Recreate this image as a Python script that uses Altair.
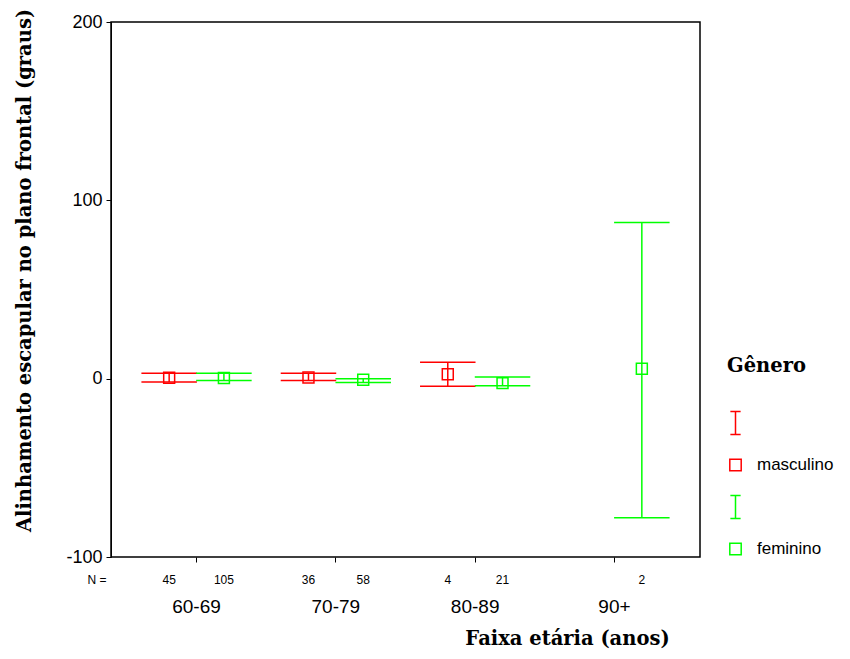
import altair as alt
import pandas as pd

# Data
faixa = ["60-69", "60-69", "70-79", "70-79", "80-89", "80-89", "90+"]
genero = ["masculino", "feminino", "masculino", "feminino", "masculino", "feminino", "feminino"]
media = [0.5, 0.4, 0.6, -0.6, 2.5, -2.5, 5.6]
ic_sup = [3.1, 3.1, 3.1, 0.0, 9.2, 1.0, 87.6]
ic_inf = [-1.9, -1.0, -1.0, -2.1, -4.2, -4.0, -78.0]
n_casos = [45, 105, 36, 58, 4, 21, 2]

categorias = ["60-69", "70-79", "80-89", "90+"]
generos = ["masculino", "feminino"]
legenda_chaves = ["m_barra", "masculino", "f_barra", "feminino"]
cores = ["#FF0000", "#FF0000", "#00FF00", "#00FF00"]

df = pd.DataFrame({
    "faixa": faixa,
    "genero": genero,
    "media": media,
    "sup": ic_sup,
    "inf": ic_inf,
    "n": [str(v) for v in n_casos],
})
df["barra"] = df["genero"].map({"masculino": "m_barra", "feminino": "f_barra"})

ibeam = "M-0.9,-2H0.9M0,-2V2M-0.9,2H0.9"
shape_scale = alt.Scale(domain=legenda_chaves, range=[ibeam, "square", ibeam, "square"])
color_scale = alt.Scale(domain=legenda_chaves, range=cores)

legenda = alt.Legend(
    title="Gênero",
    orient="none",
    legendX=616,
    legendY=335,
    titleFont="DejaVu Serif",
    titleFontSize=19.5,
    titleFontWeight="bold",
    titleColor="#000000",
    titlePadding=38,
    labelFont="Liberation Sans",
    labelFontSize=17,
    labelColor="#000000",
    labelExpr="indexof(datum.label, 'barra') >= 0 ? '' : datum.label",
    symbolSize=130,
    symbolStrokeWidth=1.5,
    symbolFillColor="transparent",
    symbolOpacity=1,
    rowPadding=18,
    labelOffset=13,
    values=legenda_chaves,
)

x_enc = alt.X(
    "faixa:N",
    scale=alt.Scale(domain=categorias, paddingInner=0.214, paddingOuter=0.221),
    axis=alt.Axis(
        title="Faixa etária (anos)",
        labelAngle=0,
        labelPadding=35,
        labelFont="Liberation Sans",
        labelFontSize=19,
        labelColor="#000000",
        tickSize=5,
        tickColor="#000000",
        domain=False,
        titleFont="DejaVu Serif",
        titleFontSize=19.5,
        titleFontWeight="bold",
        titleColor="#000000",
        titleX=456,
        titleY=72,
        titleBaseline="top",
        titleAnchor="middle",
    ),
)
xoff = alt.XOffset("genero:N", scale=alt.Scale(domain=generos, paddingInner=0, paddingOuter=0))

y_scale = alt.Scale(domain=[-100, 200], nice=False, zero=False)
y_axis = alt.Axis(
    title="Alinhamento escapular no plano frontal (graus)",
    values=[-100, 0, 100, 200],
    labelExpr="datum.value < 0 ? '-' + abs(datum.value) : datum.label",
    grid=False,
    tickSize=5,
    tickColor="#000000",
    domainColor="#000000",
    labelFont="Liberation Sans",
    labelFontSize=18,
    labelColor="#000000",
    labelPadding=4,
    titleFont="DejaVu Serif",
    titleFontSize=19.5,
    titleFontWeight="bold",
    titleColor="#000000",
    titleBaseline="alphabetic",
    titleX=-81,
    titleY=248,
)

base = alt.Chart(df)

rules = base.transform_calculate(chave="datum.barra").mark_rule(strokeWidth=1.5, opacity=1).encode(
    x=x_enc, xOffset=xoff,
    y=alt.Y("inf:Q", scale=y_scale, axis=y_axis),
    y2="sup:Q",
    color=alt.Color("chave:N", scale=color_scale, legend=legenda),
)

tick_kw = dict(size=54, thickness=0.01, orient="horizontal", filled=False, strokeWidth=1.5, opacity=1)

caps_sup = base.transform_calculate(chave="datum.barra").mark_tick(**tick_kw).encode(
    x=x_enc, xOffset=xoff,
    y=alt.Y("sup:Q", scale=y_scale),
    color=alt.Color("chave:N", scale=color_scale, legend=legenda),
)
caps_inf = base.transform_calculate(chave="datum.barra").mark_tick(**tick_kw).encode(
    x=x_enc, xOffset=xoff,
    y=alt.Y("inf:Q", scale=y_scale),
    color=alt.Color("chave:N", scale=color_scale, legend=legenda),
)

pontos = base.transform_calculate(chave="datum.genero").mark_point(filled=False, size=120, strokeWidth=1.5, opacity=1).encode(
    x=x_enc, xOffset=xoff,
    y=alt.Y("media:Q", scale=y_scale),
    color=alt.Color("chave:N", scale=color_scale, legend=legenda),
    shape=alt.Shape("chave:N", scale=shape_scale, legend=legenda),
)

n_texto = base.mark_text(font="Liberation Sans", fontSize=12, color="#000000", baseline="middle").encode(
    x=x_enc, xOffset=xoff,
    y=alt.value(558),
    text="n:N",
)

n_rotulo = alt.Chart(pd.DataFrame({"t": ["N ="]})).mark_text(
    font="Liberation Sans", fontSize=12, color="#000000", baseline="middle"
).encode(
    x=alt.value(-14), y=alt.value(558), text="t:N"
)

chart = alt.layer(rules, caps_sup, caps_inf, pontos, n_texto, n_rotulo).properties(
    width=589,
    height=535,
    autosize=alt.AutoSizeParams(type="none"),
    padding={"left": 103, "top": 14, "right": 142, "bottom": 94},
).configure_view(
    stroke="#000000", strokeWidth=1.5
)

chart.save("out.html", embed_options={"renderer": "svg", "actions": False})
